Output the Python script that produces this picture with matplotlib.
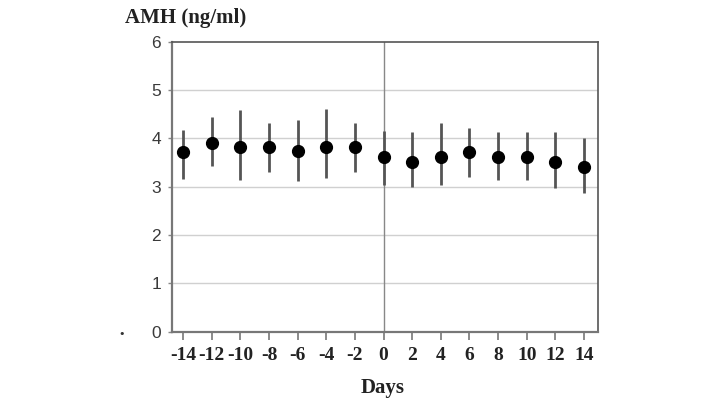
import matplotlib.pyplot as plt

# AMH over the cycle, day 0 = reference day
days = [-14, -12, -10, -8, -6, -4, -2, 0, 2, 4, 6, 8, 10, 12, 14]
amh_mean = [3.71, 3.90, 3.83, 3.83, 3.73, 3.83, 3.83, 3.62, 3.51, 3.61, 3.71, 3.61, 3.61, 3.51, 3.40]
amh_upper = [4.18, 4.44, 4.58, 4.31, 4.38, 4.60, 4.31, 4.16, 4.14, 4.31, 4.22, 4.13, 4.13, 4.13, 4.00]
amh_lower = [3.16, 3.43, 3.14, 3.31, 3.11, 3.18, 3.31, 3.04, 3.00, 3.04, 3.21, 3.13, 3.13, 2.97, 2.88]
y_ticks = [0, 1, 2, 3, 4, 5, 6]

err_low = [m - lo for m, lo in zip(amh_mean, amh_lower)]
err_high = [hi - m for m, hi in zip(amh_mean, amh_upper)]

fig = plt.figure(figsize=(7.2, 4.05), dpi=100)
ax = fig.add_axes([0.2389, 0.181, 0.5917, 0.716])

# grid and reference line
for y in y_ticks[1:-1]:
    ax.axhline(y, color='#d0d0d0', lw=1, zorder=0)
ax.axvline(0, color='#888888', lw=1, zorder=1)

ax.errorbar(days, amh_mean, yerr=[err_low, err_high], fmt='o', color='black',
            ecolor='#555555', elinewidth=2, capsize=0, markersize=8.5, zorder=3)

ax.set_xlim(-14.77, 14.98)
ax.set_ylim(0, 6)
ax.set_xticks(days)
ax.set_xticklabels([str(d) for d in days], family='Liberation Serif',
                   fontweight='bold', fontsize=14, color='#222222')
ax.set_yticks(y_ticks)
ax.set_yticklabels([str(v) for v in y_ticks], family='Liberation Sans',
                   fontsize=12.5, color='#3a3a3a')
ax.tick_params(axis='x', length=6, width=1.2, color='#777777', pad=5)
ax.tick_params(axis='y', length=3, width=1, color='#888888', pad=5)

for side in ['left', 'bottom']:
    ax.spines[side].set_color('#777777')
    ax.spines[side].set_linewidth(1.6)
for side in ['top', 'right']:
    ax.spines[side].set_color('#555555')
    ax.spines[side].set_linewidth(1.2)

fig.text(186 / 720, 1 - 18 / 405, 'AMH (ng/ml)', family='Liberation Serif',
         fontweight='bold', fontsize=15, ha='center', va='center', color='#222222')
fig.text(383 / 720, 1 - 388 / 405, 'Days', family='Liberation Serif',
         fontweight='bold', fontsize=15, ha='center', va='center', color='#222222')
fig.text(122 / 720, 1 - 334 / 405, '•', fontsize=8, ha='center', va='center', color='#333333')

fig.savefig('out.png', dpi=100)
